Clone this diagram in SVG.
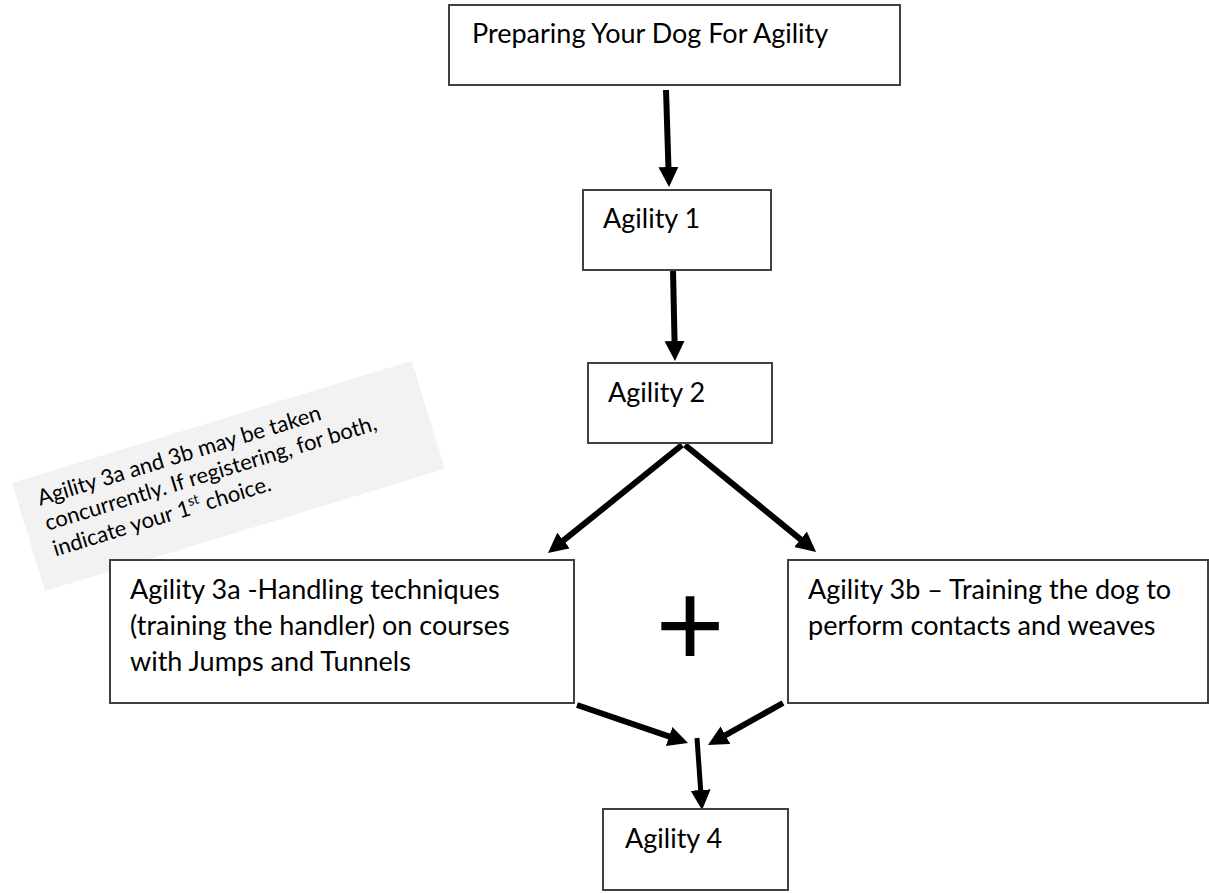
<svg xmlns="http://www.w3.org/2000/svg" width="1209" height="893" viewBox="0 0 1209 893">
<style>
  .box { fill: #ffffff; stroke: #404040; stroke-width: 2; }
  .lbl { font-family: Lato, "Liberation Sans", sans-serif; font-size: 27px; fill: #000000; }
  .note { font-family: Lato, "Liberation Sans", sans-serif; font-size: 22px; fill: #000000; }
  .conn { stroke: #000000; stroke-width: 6; fill: none; marker-end: url(#ah); }
</style>
<defs>
  <marker id="ah" markerUnits="userSpaceOnUse" markerWidth="22" markerHeight="22" refX="2" refY="10" orient="auto">
    <path d="M0,0 L20,10 L0,20 Z" fill="#000000"/>
  </marker>
</defs>
<rect width="1209" height="893" fill="#ffffff"/>

<g id="note" transform="translate(12,483) rotate(-17)">
  <rect x="0" y="0" width="418" height="113" fill="#f2f2f2"/>
  <text class="note" x="20" y="30">Agility 3a and 3b may be taken</text>
  <text class="note" x="20" y="56">concurrently. If registering, for both,</text>
  <text class="note" x="20" y="83">indicate your 1<tspan font-size="14" dy="-9">st</tspan><tspan dy="9"> choice.</tspan></text>
</g>

<g id="connectors">
  <line class="conn" x1="666" y1="90" x2="668.5" y2="169"/>
  <line class="conn" x1="673" y1="270" x2="674.6" y2="343"/>
  <line class="conn" x1="682" y1="445" x2="562" y2="541.7"/>
  <line class="conn" x1="685" y1="445" x2="802.1" y2="540.6"/>
  <line class="conn" x1="577" y1="705" x2="671" y2="737.2"/>
  <line class="conn" x1="783" y1="703" x2="723.7" y2="736.2"/>
  <line class="conn" x1="697" y1="738" x2="700.8" y2="792" style="stroke-width:5"/>
</g>

<g id="node-start">
  <rect class="box" x="449" y="5" width="451" height="80"/>
  <text class="lbl" x="472" y="43">Preparing Your Dog For Agility</text>
</g>
<g id="node-agility1">
  <rect class="box" x="583" y="190" width="188" height="80"/>
  <text class="lbl" x="603" y="228">Agility 1</text>
</g>
<g id="node-agility2">
  <rect class="box" x="588" y="363" width="184" height="80"/>
  <text class="lbl" x="608" y="402">Agility 2</text>
</g>
<g id="node-agility3a">
  <rect class="box" x="110" y="560" width="464" height="143"/>
  <text class="lbl" x="130" y="599">Agility 3a -Handling techniques</text>
  <text class="lbl" x="130" y="635">(training the handler) on courses</text>
  <text class="lbl" x="130" y="671">with Jumps and Tunnels</text>
</g>
<g id="plus">
  <text x="690" y="666" text-anchor="middle" style="font-family: Lato, 'Liberation Sans', sans-serif; font-size: 120px; fill: #000000;">+</text>
</g>
<g id="node-agility3b">
  <rect class="box" x="788" y="560" width="420" height="143"/>
  <text class="lbl" x="808" y="599">Agility 3b – Training the dog to</text>
  <text class="lbl" x="808" y="635">perform contacts and weaves</text>
</g>
<g id="node-agility4">
  <rect class="box" x="603" y="809" width="185" height="81"/>
  <text class="lbl" x="625" y="848">Agility 4</text>
</g>
</svg>
